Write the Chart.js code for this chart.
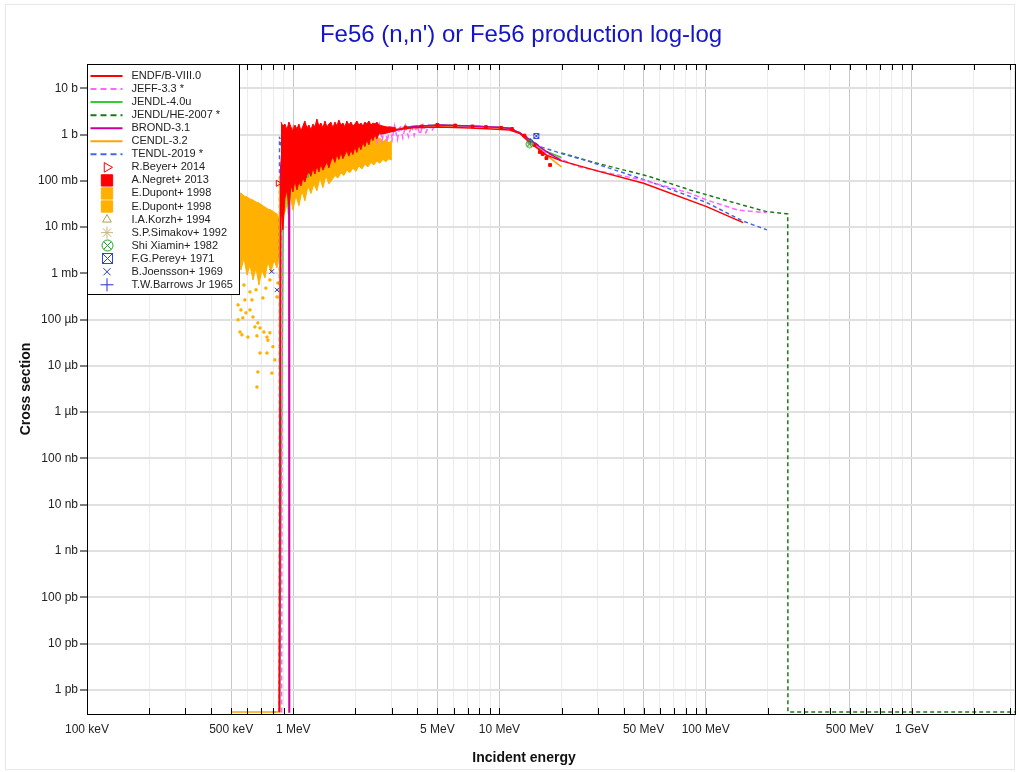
<!DOCTYPE html>
<html>
<head>
<meta charset="utf-8">
<title>Fe56 (n,n') or Fe56 production</title>
<script src="https://cdn.jsdelivr.net/npm/chart.js@4.4.1/dist/chart.umd.min.js"></script>
<style>
  html, body { margin: 0; padding: 0; background: #fff; }
  #wrap { width: 1020px; height: 772px; }
</style>
</head>
<body>
<div id="wrap"><canvas id="myChart" width="1020" height="772"></canvas></div>
<script>
// Energies in MeV, cross sections in barns.
// A zero cross section is drawn on the bottom axis (the axis starts at 0.3 pb)
const ZERO = 3.3e-13;

const chartTitle = "Fe56 (n,n') or Fe56 production log-log";
const xTitle = 'Incident energy';
const yTitle = 'Cross section';
const xTickValues = [0.1, 0.5, 1, 5, 10, 50, 100, 500, 1000];
const xTickLabels = ['100 keV', '500 keV', '1 MeV', '5 MeV', '10 MeV', '50 MeV', '100 MeV', '500 MeV', '1 GeV'];
const yTickValues = [10, 1, 0.1, 0.01, 1e-3, 1e-4, 1e-5, 1e-6, 1e-7, 1e-8, 1e-9, 1e-10, 1e-11, 1e-12];
const yTickLabels = ['10 b', '1 b', '100 mb', '10 mb', '1 mb', '100 µb', '10 µb', '1 µb', '100 nb', '10 nb', '1 nb', '100 pb', '10 pb', '1 pb'];

// Evaluated data
const endfE = [0.855, 0.862, 0.87, 0.9, 0.95, 1.0, 1.05, 1.1, 1.2, 1.3, 1.4, 1.5, 1.65, 1.8, 2.0, 2.2, 2.4, 2.6, 2.8, 3.0, 3.8, 5.1, 7.2, 9.7, 11.2, 12.6, 14.0, 16.9, 20.0, 30.7, 50, 101, 152];
const endfS = [ZERO, ZERO, 0.05, 0.9, 0.15, 1.3, 0.4, 1.1, 0.5, 1.4, 0.6, 1.2, 0.7, 1.4, 0.9, 1.3, 1.0, 1.35, 1.15, 1.25, 1.4, 1.45, 1.38, 1.3, 1.25, 1.05, 0.68, 0.36, 0.27, 0.158, 0.089, 0.0277, 0.0125];

const jeffE = [0.875, 0.879, 0.885, 0.92, 1.0, 1.1, 1.25, 1.4, 1.6, 1.8, 2.0, 2.2, 2.40, 2.48, 2.55, 2.62, 2.70, 2.78, 2.86, 2.94, 3.02, 3.10, 3.20, 3.30, 3.40, 3.50, 3.62, 3.74, 3.86, 3.98, 4.12, 4.26, 4.40, 4.55, 4.70, 4.88, 5.1, 7.2, 9.7, 11.2, 12.6, 14.6, 16.9, 20.0, 24.3, 49.6, 83, 101, 143, 197];
const jeffS = [ZERO, ZERO, 0.03, 1.0, 0.3, 1.2, 0.5, 1.3, 0.6, 1.4, 0.7, 1.3, 0.9, 1.55, 0.72, 1.6, 0.75, 1.5, 0.7, 1.6, 0.8, 1.55, 0.78, 1.6, 0.85, 1.55, 0.9, 1.6, 0.95, 1.58, 1.0, 1.62, 1.1, 1.6, 1.2, 1.62, 1.6, 1.53, 1.44, 1.37, 1.07, 0.65, 0.40, 0.29, 0.20, 0.104, 0.055, 0.0386, 0.0234, 0.0205];

const jendlE = [0.858, 0.862, 0.9, 0.95, 1.0, 1.08, 1.18, 1.3, 1.45, 1.6, 1.8, 2.0, 2.3, 2.6, 3.0, 3.8, 5.1, 7.2, 9.7, 11.2, 12.6, 15.0, 16.9, 20.0];
const jendlS = [ZERO, ZERO, 0.6, 0.018, 1.0, 0.15, 0.12, 1.2, 0.5, 1.3, 0.6, 1.2, 0.8, 1.3, 1.2, 1.5, 1.6, 1.53, 1.44, 1.37, 1.07, 0.55, 0.43, 0.32];

const jendlHeE = [20.0, 27.4, 53.6, 83.8, 141, 197, 250, 250.5, 3162];
const jendlHeS = [0.40, 0.265, 0.123, 0.0635, 0.0327, 0.0216, 0.0192, ZERO, ZERO];

const brondE = [0.858, 0.862, 0.87, 0.9, 0.94, 0.952, 0.954, 0.96, 1.0, 1.1, 1.25, 1.4, 1.6, 1.8, 2.0, 2.3, 2.6, 3.0, 3.8, 5.1, 7.2, 9.7, 11.2, 12.6, 14.5, 17.0, 20.0];
const brondS = [ZERO, ZERO, 0.2, 1.1, 0.4, 0.3, ZERO, 0.5, 1.2, 0.5, 1.3, 0.6, 1.4, 0.7, 1.3, 0.8, 1.3, 1.2, 1.5, 1.6, 1.53, 1.44, 1.37, 1.07, 0.70, 0.42, 0.27];

const cendlE = [0.505, 0.857, 0.86, 0.9, 1.0, 1.2, 1.5, 1.8, 2.2, 2.6, 3.0, 3.8, 5.1, 7.2, 9.7, 11.2, 12.6, 14.6, 17.0, 20.0];
const cendlS = [ZERO, ZERO, 0.1, 0.8, 0.3, 1.0, 0.5, 1.2, 0.7, 1.2, 1.2, 1.45, 1.55, 1.5, 1.4, 1.33, 1.05, 0.65, 0.35, 0.20];

const tendlE = [0.79, 0.856, 0.858, 0.9, 0.95, 1.0, 1.1, 1.25, 1.4, 1.6, 1.8, 2.0, 2.3, 2.6, 3.0, 3.8, 5.1, 7.2, 9.7, 11.2, 12.6, 14.2, 15.7, 20.0, 27.4, 53.6, 101, 151, 198];
const tendlS = [ZERO, ZERO, 0.9, 0.3, 1.1, 0.4, 1.2, 0.5, 1.3, 0.6, 1.3, 0.8, 1.2, 1.0, 1.25, 1.5, 1.6, 1.53, 1.44, 1.37, 1.1, 0.79, 0.55, 0.39, 0.26, 0.096, 0.034, 0.0136, 0.0087];

// Experimental data
// A.Negret 2013: upper and lower edge of the dense forest of points
const negretE = [0.872, 0.891, 0.912, 0.932, 0.953, 0.975, 0.997, 1.019, 1.042, 1.066, 1.090, 1.114, 1.139, 1.165, 1.192, 1.218, 1.246, 1.274, 1.303, 1.332, 1.362, 1.393, 1.425, 1.457, 1.489, 1.523, 1.557, 1.593, 1.628, 1.665, 1.703, 1.741, 1.780, 1.820, 1.862, 1.904, 1.947, 1.991, 2.036, 2.082, 2.129, 2.177, 2.226, 2.277, 2.328, 2.381, 2.434, 2.489, 2.545, 2.603, 2.721, 2.846, 2.976, 3.146];
const negretHi = [1.87, 1.53, 1.69, 1.26, 1.87, 1.46, 1.08, 1.61, 1.32, 1.69, 1.20, 1.53, 1.97, 1.39, 1.61, 1.26, 1.69, 1.46, 2.17, 1.53, 1.78, 1.39, 1.97, 1.46, 1.69, 1.87, 1.39, 1.87, 1.53, 2.07, 1.61, 1.78, 1.46, 1.97, 1.61, 1.87, 1.53, 1.69, 1.97, 1.61, 1.78, 1.53, 1.87, 1.69, 1.97, 1.61, 1.78, 1.69, 1.87, 1.61, 1.53, 1.46, 1.46, 1.39];
const negretLo = [0.0301, 0.0087, 0.0426, 0.0635, 0.0301, 0.0814, 0.0574, 0.104, 0.0635, 0.0944, 0.0774, 0.115, 0.0944, 0.134, 0.16, 0.125, 0.19, 0.14, 0.21, 0.155, 0.23, 0.17, 0.21, 0.26, 0.19, 0.27, 0.33, 0.25, 0.37, 0.29, 0.41, 0.30, 0.37, 0.45, 0.34, 0.47, 0.37, 0.55, 0.41, 0.60, 0.47, 0.67, 0.55, 0.77, 0.60, 0.90, 0.74, 0.98, 0.81, 1.05, 1.03, 1.08, 1.14, 1.2];
const negretPtE = [3.5, 4.2, 5.0, 6.1, 7.4, 8.6, 10.2, 11.5, 13.2, 14.8, 15.7, 16.2, 16.9, 17.6];
const negretPtS = [1.42, 1.5, 1.62, 1.57, 1.5, 1.45, 1.4, 1.32, 0.95, 0.6, 0.42, 0.38, 0.31, 0.22];

// E.Dupont 1998: dense cloud below the threshold, then band above it
const dupLowE = [0.540, 0.558, 0.577, 0.597, 0.617, 0.638, 0.660, 0.682, 0.705, 0.729, 0.754, 0.780, 0.806, 0.834, 0.853];
const dupLowHi = [0.0520, 0.0546, 0.0471, 0.0448, 0.0406, 0.0386, 0.0349, 0.0332, 0.0301, 0.0272, 0.0246, 0.0234, 0.0212, 0.0192, 0.0158];
const dupLowLo = [0.00177, 0.00119, 0.00215, 0.00092, 0.00152, 0.00072, 0.00131, 0.00056, 0.00119, 0.00080, 0.00177, 0.00107, 0.00195, 0.00131, 0.00250];
const dupDotE = [0.540, 0.558, 0.570, 0.590, 0.617, 0.638, 0.652, 0.674, 0.690, 0.721, 0.746, 0.771, 0.552, 0.564, 0.603, 0.667, 0.754, 0.797, 0.746, 0.690, 0.815, 0.674, 0.667, 0.788, 0.834, 0.843, 0.583, 0.540, 0.631, 0.713, 0.577, 0.660, 0.737, 0.771, 0.617];
const dupDotS = [2.08e-4, 1.62e-4, 1.09e-4, 1.40e-4, 1.62e-4, 1.14e-4, 6.95e-5, 8.5e-5, 6.6e-5, 5.4e-5, 4.2e-5, 5.2e-5, 5.4e-5, 4.7e-5, 4.2e-5, 4.45e-5, 3.6e-5, 2.6e-5, 1.9e-5, 1.9e-5, 1.35e-5, 7.4e-6, 3.5e-6, 7.0e-6, 3.09e-4, 6.2e-4, 2.67e-4, 9.9e-5, 2.67e-4, 2.94e-4, 5.6e-4, 4.4e-4, 4.8e-4, 7.2e-4, 3.97e-4];
const dupE = [0.901, 0.932, 0.964, 0.997, 1.030, 1.066, 1.102, 1.139, 1.179, 1.218, 1.260, 1.303, 1.347, 1.393, 1.441, 1.489, 1.540, 1.593, 1.647, 1.703, 1.761, 1.820, 1.883, 1.947, 2.013, 2.082, 2.153, 2.226, 2.302, 2.381, 2.461, 2.545, 2.632, 2.721, 2.814, 2.910, 3.009];
const dupHi = [0.464, 0.282, 0.362, 0.220, 0.464, 0.282, 0.464, 0.312, 0.513, 0.362, 0.596, 0.420, 0.596, 0.464, 0.691, 0.513, 0.764, 0.566, 0.764, 0.596, 0.843, 0.658, 0.886, 0.691, 0.932, 0.764, 0.843, 0.727, 0.886, 0.764, 0.932, 0.764, 0.843, 0.691, 0.802, 0.658, 0.764];
const dupLo = [0.0181, 0.0301, 0.0495, 0.0234, 0.048, 0.029, 0.061, 0.037, 0.078, 0.053, 0.086, 0.061, 0.116, 0.071, 0.129, 0.086, 0.104, 0.13, 0.115, 0.15, 0.13, 0.17, 0.15, 0.19, 0.16, 0.21, 0.18, 0.23, 0.20, 0.25, 0.22, 0.27, 0.24, 0.29, 0.26, 0.30, 0.28];

const beyerE = [0.844];       const beyerS = [0.0886];
const korzhE = [14.2];        const korzhS = [0.66];
const simakovE = [14.1];      const simakovS = [0.64];
const shiE = [14.0];          const shiS = [0.625];
const pereyE = [15.1];        const pereyS = [0.93];
const joenssonE = [0.787, 0.834]; const joenssonS = [1.1e-3, 4.4e-4];
const barrowsE = [14.1];      const barrowsS = [0.70];

// colours
const RED = '#ff0000', PINK = '#ff66ff', GREEN = '#33cc33', DKGREEN = '#1a7a1a',
      MAGENTA = '#cc0099', ORANGE = '#ffa500', BLUE = '#4466ee', DUPONT = '#ffb000',
      OLIVE = '#b0a050', KHAKI = '#c8b880', SHIGREEN = '#22a022', NAVY = '#2233cc';

const X_MIN = 0.1, X_MAX = 3162, Y_MIN = 3e-13, Y_MAX = 33.5;

const pts = (xs, ys) => xs.map((x, i) => ({ x: x, y: ys[i] }));

// small canvases for the symbols Chart.js does not have
const makeSymbol = (kind, color, size) => {
    const c = document.createElement('canvas');
    c.width = size; c.height = size;
    const g = c.getContext('2d');
    g.strokeStyle = color;
    g.lineWidth = 1;
    const h = size / 2, r = h - 1;
    if (kind === 'circleX') {
        g.beginPath(); g.arc(h, h, r, 0, Math.PI * 2); g.stroke();
        const d = r * Math.SQRT1_2;
        g.beginPath();
        g.moveTo(h - d, h - d); g.lineTo(h + d, h + d);
        g.moveTo(h + d, h - d); g.lineTo(h - d, h + d);
        g.stroke();
    } else {
        g.strokeRect(1.5, 1.5, size - 3, size - 3);
        g.beginPath();
        g.moveTo(1.5, 1.5); g.lineTo(size - 1.5, size - 1.5);
        g.moveTo(size - 1.5, 1.5); g.lineTo(1.5, size - 1.5);
        g.stroke();
    }
    return c;
};
const shiSym = makeSymbol('circleX', SHIGREEN, 9);
const pereySym = makeSymbol('squareX', '#3344dd', 8);
const shiSymBig = makeSymbol('circleX', SHIGREEN, 13);
const pereySymBig = makeSymbol('squareX', '#3344dd', 13);

const line = (label, xs, ys, color, dash, width) => ({
    label: label, data: pts(xs, ys), borderColor: color, backgroundColor: color,
    borderWidth: width || 1.5, borderDash: dash || [], pointRadius: 0, fill: false
});
const marks = (label, xs, ys, style, color, radius, filled, rotation) => ({
    label: label, data: pts(xs, ys), showLine: false, pointStyle: style,
    pointRadius: radius, pointRotation: rotation || 0, pointBorderWidth: 1,
    borderColor: color, backgroundColor: filled ? color : 'rgba(0,0,0,0)'
});
const band = (label, xs, ys, color) => ({
    label: label, data: pts(xs, ys), borderColor: color, backgroundColor: color,
    borderWidth: 1, pointRadius: 0, fill: '-1'
});

// first dataset is drawn on top
const datasets = [
    marks('F.G.Perey+ 1971', pereyE, pereyS, pereySym, '#3344dd', 4, false),
    marks('Shi Xiamin+ 1982', shiE, shiS, shiSym, SHIGREEN, 4, false),
    marks('B.Joensson+ 1969', joenssonE, joenssonS, 'crossRot', NAVY, 3, false),
    marks('T.W.Barrows Jr 1965', barrowsE, barrowsS, 'cross', NAVY, 3, false),
    marks('S.P.Simakov+ 1992', simakovE, simakovS, 'star', KHAKI, 3, false),
    marks('I.A.Korzh+ 1994', korzhE, korzhS, 'triangle', OLIVE, 3, false),
    marks('R.Beyer+ 2014', beyerE, beyerS, 'triangle', RED, 3.5, false, 90),
    marks('A.Negret+ 2013', negretPtE, negretPtS, 'rect', RED, 2, true),
    line('A.Negret+ 2013 low', negretE, negretLo, RED, [], 1),
    band('A.Negret+ 2013 high', negretE, negretHi, RED),
    line('ENDF/B-VIII.0', endfE, endfS, RED),
    line('BROND-3.1', brondE, brondS, MAGENTA),
    line('JEFF-3.3 *', jeffE, jeffS, PINK, [5, 3]),
    line('JENDL-4.0u', jendlE, jendlS, GREEN),
    line('CENDL-3.2', cendlE, cendlS, ORANGE),
    line('TENDL-2019 *', tendlE, tendlS, BLUE, [4, 3]),
    line('JENDL/HE-2007 *', jendlHeE, jendlHeS, DKGREEN, [4, 3]),
    marks('E.Dupont+ 1998', dupDotE, dupDotS, 'rect', DUPONT, 1.5, true),
    line('E.Dupont+ 1998 low', dupLowE, dupLowLo, DUPONT, [], 1),
    band('E.Dupont+ 1998 high', dupLowE, dupLowHi, DUPONT),
    line('E.Dupont+ 1998 low', dupE, dupLo, DUPONT, [], 1),
    band('E.Dupont+ 1998 high', dupE, dupHi, DUPONT)
];

// legend rows as in the original plot
const legendItems = [
    { label: 'ENDF/B-VIII.0', color: RED },
    { label: 'JEFF-3.3 *', color: PINK, dash: [6, 4] },
    { label: 'JENDL-4.0u', color: GREEN },
    { label: 'JENDL/HE-2007 *', color: DKGREEN, dash: [6, 4] },
    { label: 'BROND-3.1', color: MAGENTA },
    { label: 'CENDL-3.2', color: ORANGE },
    { label: 'TENDL-2019 *', color: BLUE, dash: [6, 4] },
    { label: 'R.Beyer+ 2014', point: 'triangle', color: RED, radius: 5.5, rotation: 90 },
    { label: 'A.Negret+ 2013', point: 'rect', color: RED, radius: 8, filled: true },
    { label: 'E.Dupont+ 1998', point: 'rect', color: DUPONT, radius: 8, filled: true },
    { label: 'E.Dupont+ 1998', point: 'rect', color: DUPONT, radius: 8, filled: true },
    { label: 'I.A.Korzh+ 1994', point: 'triangle', color: OLIVE, radius: 5 },
    { label: 'S.P.Simakov+ 1992', point: 'star', color: KHAKI, radius: 6 },
    { label: 'Shi Xiamin+ 1982', image: shiSymBig },
    { label: 'F.G.Perey+ 1971', image: pereySymBig },
    { label: 'B.Joensson+ 1969', point: 'crossRot', color: NAVY, radius: 5 },
    { label: 'T.W.Barrows Jr 1965', point: 'cross', color: NAVY, radius: 6.5 }
];

// grid positions 1..9 x 10^n on the energy axis
const xGrid = [];
for (let d = -1; d <= 3; d++) {
    for (let m = 1; m <= 9; m++) {
        const v = m * Math.pow(10, d);
        if (v >= X_MIN && v <= X_MAX) xGrid.push({ v: v, m: m });
    }
}

const sameValue = (a, b) => Math.abs(Math.log10(a) - Math.log10(b)) < 1e-6;
const labelFor = (v, values, labels) => {
    const i = values.findIndex(t => sameValue(t, v));
    return i >= 0 ? labels[i] : '';
};

const FONT = "'Liberation Sans', Arial, sans-serif";

const framePlugin = {
    id: 'frame',
    beforeDraw(chart) {
        const ctx = chart.ctx;
        ctx.save();
        ctx.fillStyle = '#fff';
        ctx.fillRect(0, 0, chart.width, chart.height);
        ctx.strokeStyle = '#e8e8e8';
        ctx.lineWidth = 1;
        ctx.strokeRect(5.5, 4.5, chart.width - 11, chart.height - 7);
        // titles
        ctx.textAlign = 'center';
        ctx.textBaseline = 'middle';
        ctx.fillStyle = '#1414c8';
        ctx.font = '24px ' + FONT;
        ctx.fillText(chartTitle, 521, 35);
        ctx.fillStyle = '#111';
        ctx.font = 'bold 14px ' + FONT;
        ctx.fillText(xTitle, 524, 758);
        ctx.restore();
    },
    afterDatasetsDraw(chart) {
        const ctx = chart.ctx;
        const a = chart.chartArea;
        const xs = chart.scales.x;
        ctx.save();
        ctx.strokeStyle = '#000';
        ctx.lineWidth = 1;
        // inward tick marks on bottom and top edges
        ctx.beginPath();
        xGrid.forEach(g => {
            const px = Math.round(xs.getPixelForValue(g.v)) + 0.5;
            ctx.moveTo(px, a.bottom); ctx.lineTo(px, a.bottom - 6);
            ctx.moveTo(px, a.top); ctx.lineTo(px, a.top + 6);
        });
        ctx.stroke();
        ctx.strokeRect(Math.round(a.left) + 0.5, Math.round(a.top) + 0.5,
            Math.round(a.right - a.left), Math.round(a.bottom - a.top));

        // legend box
        const bx = Math.round(a.left) + 0.5, by = Math.round(a.top) + 0.5;
        ctx.fillStyle = '#fff';
        ctx.fillRect(bx, by, 152, 230);
        ctx.strokeRect(bx, by, 152, 230);
        ctx.font = '11px ' + FONT;
        ctx.textBaseline = 'middle';
        legendItems.forEach((it, i) => {
            const y = by + 11.5 + i * 13.05;
            const cx = bx + 19.5;
            if (it.image) {
                ctx.drawImage(it.image, Math.round(cx - it.image.width / 2), Math.round(y - it.image.height / 2));
            } else if (it.point) {
                ctx.strokeStyle = it.color;
                ctx.fillStyle = it.filled ? it.color : 'rgba(0,0,0,0)';
                ctx.lineWidth = 1;
                Chart.helpers.drawPoint(ctx, {
                    pointStyle: it.point, radius: it.radius, rotation: it.rotation || 0, borderWidth: 1
                }, cx, y);
            } else {
                ctx.strokeStyle = it.color;
                ctx.lineWidth = 2;
                ctx.setLineDash(it.dash || []);
                ctx.beginPath();
                ctx.moveTo(bx + 3, y); ctx.lineTo(bx + 35, y);
                ctx.stroke();
                ctx.setLineDash([]);
            }
            ctx.fillStyle = '#222';
            ctx.fillText(it.label, bx + 44, y);
        });
        ctx.restore();
    }
};

Chart.defaults.font.family = FONT;
Chart.defaults.color = '#222';

const ctx = document.getElementById('myChart').getContext('2d');
const chart = new Chart(ctx, {
    type: 'line',
    data: { datasets: datasets },
    plugins: [framePlugin],
    options: {
        responsive: false,
        devicePixelRatio: 1,
        animation: false,
        layout: { padding: { left: 0, right: 5, top: 64, bottom: 0 } },
        elements: { line: { tension: 0 } },
        plugins: {
            legend: { display: false },
            tooltip: { enabled: false },
            title: { display: false }
        },
        scales: {
            x: {
                type: 'logarithmic',
                min: X_MIN,
                max: X_MAX,
                afterBuildTicks: (scale) => {
                    scale.ticks = xGrid.map(g => ({ value: g.v }));
                },
                afterFit: (scale) => { scale.height = 58; },
                ticks: {
                    autoSkip: false,
                    maxRotation: 0,
                    padding: 8,
                    font: { size: 12 },
                    callback: (value, index, ticks) => labelFor(ticks[index].value, xTickValues, xTickLabels)
                },
                grid: {
                    drawTicks: false,
                    color: (c) => {
                        const g = xGrid[c.index];
                        return g && (g.m === 1 || g.m === 5) ? '#c8c8c8' : '#ececec';
                    },
                    lineWidth: 1
                },
                border: { display: true, color: '#000', width: 1 }
            },
            y: {
                type: 'logarithmic',
                min: Y_MIN,
                max: Y_MAX,
                afterBuildTicks: (scale) => {
                    scale.ticks = yTickValues.slice().reverse().map(v => ({ value: v }));
                },
                afterFit: (scale) => { scale.width = 87; },
                ticks: {
                    autoSkip: false,
                    padding: 2,
                    font: { size: 12 },
                    callback: (value, index, ticks) => labelFor(ticks[index].value, yTickValues, yTickLabels)
                },
                grid: {
                    color: '#e0e0e0',
                    lineWidth: 2,
                    tickLength: 7,
                    tickColor: '#000',
                    tickWidth: 1
                },
                border: { display: true, color: '#000', width: 1 },
                title: {
                    display: true,
                    text: yTitle,
                    color: '#111',
                    font: { size: 14, weight: 'bold' },
                    padding: { top: 18, bottom: 0 }
                }
            }
        }
    }
});
</script>
</body>
</html>
